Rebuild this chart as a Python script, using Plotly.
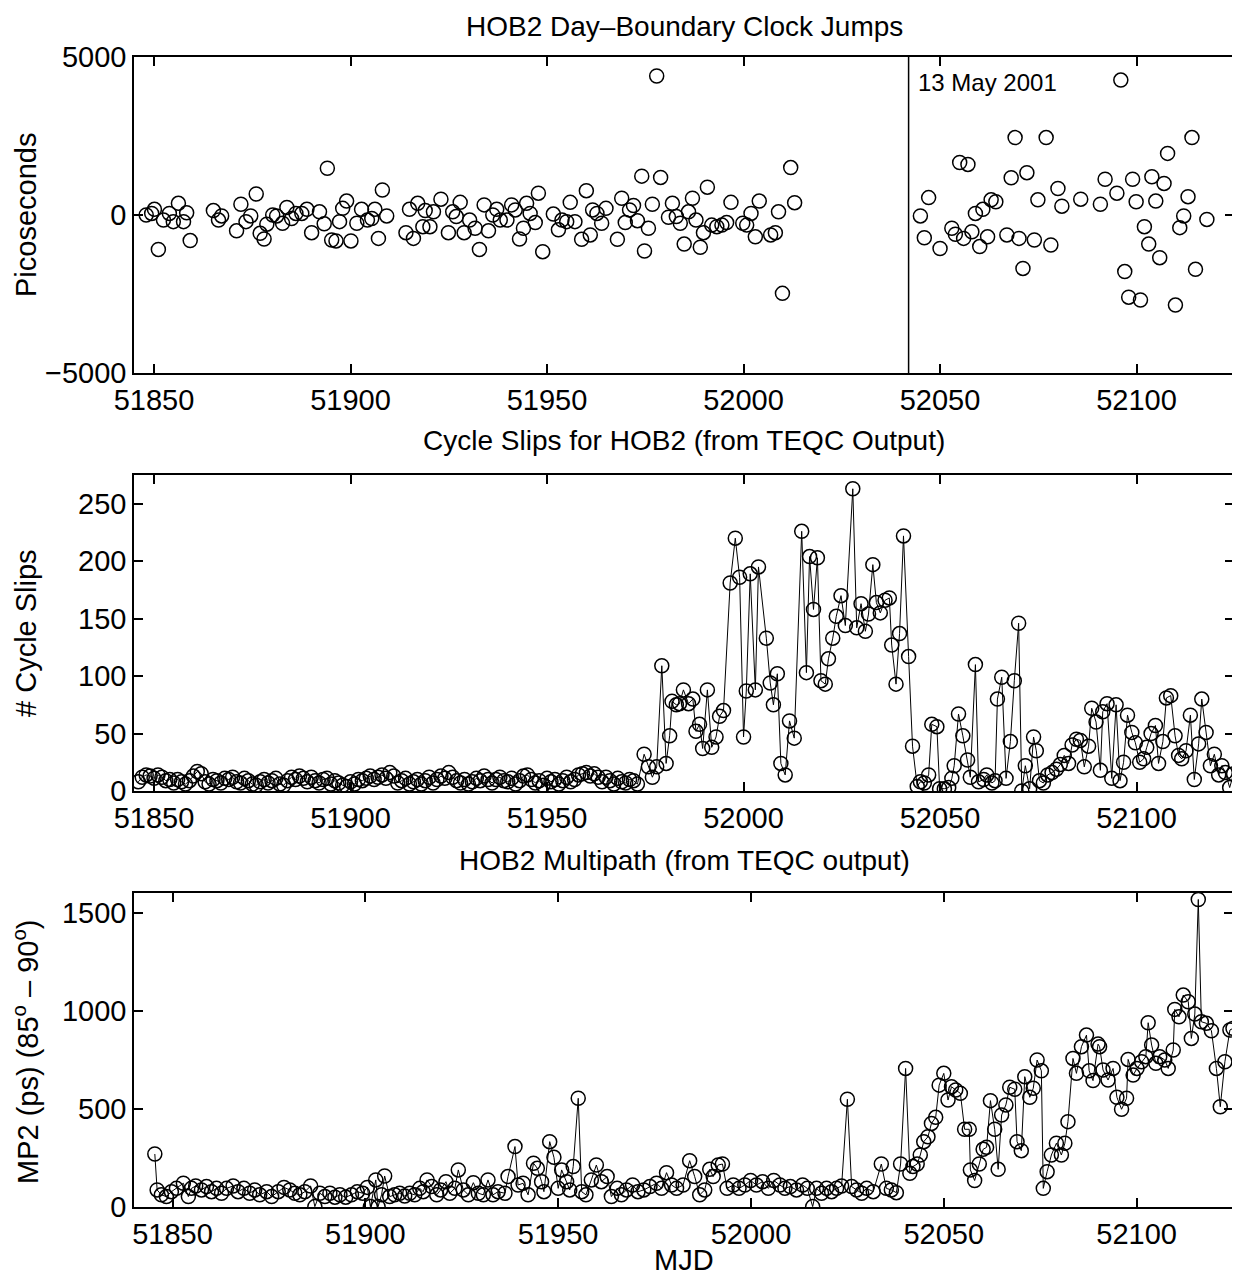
import plotly.graph_objects as go

# ---------------- Panel 1: day-boundary clock jumps (ps) ----------------
p1_mjd = [51848.0, 51849.4, 51850.1, 51851.1, 51852.4, 51853.9, 51854.9, 51856.2, 51857.5, 51858.3, 51859.2,
          51865.1, 51866.4, 51867.2, 51871.0, 51872.1, 51873.4, 51874.6, 51876.0, 51877.0, 51878.0, 51878.7,
          51880.2, 51881.2, 51882.7, 51883.8, 51885.0, 51886.1, 51887.6, 51888.9, 51890.1, 51892.1, 51893.3,
          51894.1, 51895.2, 51896.3, 51897.2, 51898.0, 51899.0, 51900.1, 51901.6, 51902.8, 51904.3, 51905.4,
          51906.2, 51907.1, 51908.1, 51909.2,
          51914.1, 51915.0, 51916.0, 51917.1, 51918.4, 51919.0, 51920.2, 51921.1, 51923.0, 51924.9, 51926.0,
          51926.9, 51927.9, 51928.9, 51930.3, 51931.7, 51932.8, 51934.0, 51935.1, 51936.2, 51937.2, 51938.1,
          51939.8, 51941.0, 51941.9, 51943.0, 51944.0, 51944.8,
          51945.7, 51947.0, 51947.8, 51948.9, 51951.6, 51952.9, 51953.8, 51955.0, 51955.9, 51957.1, 51958.8,
          51960.0, 51961.0, 51961.6, 51962.7, 51963.9, 51965.0, 51967.9, 51969.0, 51969.9, 51971.0, 51972.0,
          51973.0, 51974.1, 51974.8, 51975.8, 51976.8, 51977.9, 51978.9, 51980.9, 51981.9, 51982.9, 51983.9,
          51984.9, 51986.0, 51987.0, 51987.9, 51989.0, 51989.8, 51990.8, 51991.9, 51993.2, 51994.5, 51995.7,
          51996.8, 51999.8, 52000.8, 52001.9, 52003.0, 52004.0, 52006.9, 52008.1, 52008.9, 52009.9, 52012.0,
          52013.0,
          52045.0, 52046.0, 52047.1, 52050.0, 52053.0, 52053.9, 52055.0, 52056.0, 52057.1, 52058.1, 52059.0,
          52060.1, 52060.9, 52062.1, 52063.0, 52064.2, 52067.0, 52068.1, 52069.1, 52070.1, 52071.1, 52072.1,
          52074.0, 52074.9, 52077.0, 52078.2, 52080.0, 52081.0, 52085.8, 52090.8, 52092.0, 52095.0, 52096.0,
          52097.0, 52098.0, 52099.0, 52099.9, 52101.0, 52102.0, 52103.1, 52103.9, 52104.9, 52105.9, 52107.0,
          52107.9, 52109.9, 52111.0, 52112.0, 52113.1, 52114.1, 52115.0, 52117.9]
p1_ps = [0, 50, 180, -1090, -160, 50, -210, 370, -210, 70, -810,
         140, -160, -30, -500, 340, -210, -30, 665, -580, -760, -290,
         0, -30, -260, 240, -110, 50, 50, 180, -560, 100, -280,
         1480, -790, -820, -210, 210, 440, -820, -260, 180, -160, -110,
         180, -740, 790, -30,
         -560, 180, -740, 370, -370, 140, -370, 100, 500, -560, 100,
         -50, 400, -560, -160, -420, -1090, 320, -500, 0, 180, -160,
         -160, 320, 160, -760, -420, 370,
         50, -240, 690, -1160, 30, -470, -160, -210, 400, -210, -770,
         770, -630, 160, 50, -260, 210, -770, 530, -240, 160, 300,
         -180, 1230, -1140, -420, 340, 4400, 1190, -70, 370, -50, -260,
         -920, 100, 530, -160, -1020, -560, 880, -320, -370, -320, -240,
         400, -260, -320, 50, -690, 440, -630, -560, 100, -2480, 1500,
         390,
         -30, -720, 550, -1060, -420, -610, 1660, -740, 1600, -530, 50,
         -1000, 180, -690, 480, 420, -630, 1180, 2450, -740, -1690, 1340,
         -790, 480, 2450, -950, 840, 280, 500, 340, 1130, 690, 4270,
         -1790, -2600, 1130, 420, -2690, -370, -920, 1210, 440, -1350, 1000,
         1950, -2850, -400, -30, 580, 2450, -1720, -140]

# ---------------- Panel 2: cycle slips ----------------
p2_low_mjd = list(range(51846, 51974))
p2_low_slips = [8, 12, 14, 13, 11, 14, 12, 9, 10, 7,
                10, 8, 6, 9, 13, 17, 15, 8, 6, 10,
                9, 7, 11, 10, 12, 8, 7, 11, 9, 6,
                5, 8, 10, 7, 9, 11, 6, 5, 9, 12,
                10, 13, 11, 8, 12, 9, 7, 10, 11, 6,
                9, 7, 5, 4, 8, 6, 10, 9, 11, 13,
                10, 12, 14, 11, 16, 13, 7, 9, 11, 6,
                8, 10, 6, 9, 12, 7, 10, 13, 11, 16,
                12, 9, 7, 10, 6, 8, 11, 9, 13, 10,
                7, 10, 12, 9, 8, 11, 6, 9, 13, 14,
                10, 7, 9, 5, 11, 8, 10, 6, 9, 12,
                8, 10, 14, 15, 16, 13, 15, 12, 8, 12,
                9, 6, 11, 8, 7, 10, 9, 6]
p2_high_mjd = [51974.7, 51975.8, 51976.8, 51977.9,
               51979.2, 51980.3, 51981.2, 51981.8, 51982.9, 51983.7, 51984.7, 51986.0, 51987.1, 51987.9,
               51988.8, 51989.6, 51990.8, 51991.9, 51993.0, 51993.9, 51994.9, 51996.6, 51997.9, 51999.0,
               52000.0, 52000.7, 52001.7, 52003.0, 52003.8, 52005.8, 52006.8, 52007.6, 52008.6, 52009.5,
               52010.6, 52011.7, 52012.9, 52014.8, 52016.0, 52016.8, 52017.8, 52018.8, 52019.7, 52020.8,
               52021.6, 52022.7, 52023.6, 52024.8, 52025.9, 52027.8, 52028.8, 52029.9, 52031.0, 52031.8,
               52032.9, 52033.8, 52034.8, 52036.0, 52037.1, 52037.7, 52038.8, 52039.7, 52040.7,
               52042.0, 52043.0, 52044.2, 52045.0, 52046.0, 52047.1, 52047.9, 52049.2, 52049.9, 52051.1,
               52052.2, 52053.0, 52053.6, 52054.7, 52055.8, 52057.0, 52057.7, 52059.0, 52059.8, 52061.1,
               52061.9, 52063.2, 52064.0, 52064.6, 52065.7, 52066.8, 52067.9, 52068.9, 52070.0, 52070.8,
               52071.7, 52072.8, 52073.8, 52074.5, 52075.3, 52076.3, 52077.4, 52078.5, 52079.6, 52080.6,
               52081.6, 52082.7, 52083.6, 52084.7, 52085.7, 52086.7, 52087.8, 52088.6, 52089.7, 52090.8,
               52091.4, 52092.5, 52093.7, 52094.8, 52095.8, 52096.7, 52097.7, 52098.8, 52099.7, 52100.8,
               52101.8, 52102.6, 52103.7, 52104.8, 52105.6, 52106.7, 52107.6, 52108.7, 52109.8, 52110.7,
               52111.5, 52112.6, 52113.7, 52114.7, 52115.8, 52116.6, 52117.7, 52118.8, 52119.8, 52120.9,
               52121.7, 52122.6, 52123.7, 52124.7]
p2_high_slips = [32, 21, 12, 21,
                 109, 24, 48, 78, 75, 76, 88, 76, 80, 52,
                 58, 37, 88, 38, 47, 65, 70, 181, 220, 186,
                 47, 87, 189, 88, 195, 133, 94, 75, 102, 24,
                 14, 61, 46, 226, 103, 204, 158, 203, 96, 93,
                 115, 133, 152, 170, 144, 263, 142, 163, 139, 154,
                 197, 164, 155, 166, 168, 127, 93, 137, 222,
                 117, 39, 4, 8, 7, 14, 58, 56, 2, 2,
                 3, 11, 22, 67, 48, 27, 12, 110, 8, 10,
                 14, 7, 9, 80, 99, 11, 43, 96, 146, 0,
                 22, 2, 47, 35, 9, 7, 14, 16, 19, 23,
                 31, 24, 40, 45, 44, 21, 39, 72, 60, 18,
                 69, 76, 11, 75, 9, 25, 66, 51, 42, 25,
                 28, 38, 50, 57, 24, 43, 81, 83, 48, 31,
                 28, 35, 66, 10, 41, 80, 51, 22, 32, 14,
                 22, 16, 3, 15]
p2_mjd = p2_low_mjd + p2_high_mjd
p2_slips = p2_low_slips + p2_high_slips

# ---------------- Panel 3: MP2 multipath (ps) ----------------
p3_mjd = [51845.4, 51846.0, 51847.1, 51848.4, 51849.7, 51851.0, 51852.8, 51854.1, 51854.9, 51856.0, 51857.5,
          51858.8, 51860.1, 51861.4, 51862.7, 51864.0, 51865.7, 51867.0, 51868.5, 51870.0, 51871.3, 51872.6,
          51874.4, 51875.7, 51877.4, 51878.9, 51880.4, 51881.7, 51883.0, 51884.3, 51885.8, 51886.9, 51888.2,
          51889.5, 51890.8, 51892.1, 51893.4, 51894.9, 51896.4, 51897.9, 51899.3, 51900.5, 51901.3, 51902.7,
          51903.3, 51904.2, 51905.0, 51906.3, 51907.6, 51908.9, 51910.2, 51911.5, 51912.8, 51914.1, 51915.0,
          51916.0, 51917.2, 51918.5, 51919.5, 51920.9, 51921.9, 51923.2, 51924.1, 51925.4, 51926.7, 51928.0,
          51929.3, 51930.6, 51931.8, 51933.1, 51934.4, 51936.2, 51937.0, 51938.8, 51939.6, 51940.9,
          51942.2, 51943.6, 51944.6, 51945.7, 51946.3, 51947.8, 51948.9, 51950.0, 51950.9, 51952.2, 51953.0,
          51953.9, 51955.2, 51956.1, 51957.2, 51958.6, 51959.9, 51961.2, 51962.7, 51963.8, 51965.3, 51966.4,
          51967.7, 51969.3, 51970.7, 51972.2, 51973.8, 51975.5, 51976.8, 51978.1, 51979.4, 51980.7, 51982.4,
          51984.1, 51985.4, 51986.7, 51988.0, 51989.3, 51990.2, 51991.5, 51992.6, 51993.8, 51995.4, 51996.9,
          51998.4, 51999.9, 52001.4, 52003.0, 52004.5, 52005.9, 52007.5, 52008.8, 52010.2, 52011.8, 52013.4,
          52014.6, 52016.0, 52017.0, 52018.3, 52019.6, 52020.9, 52022.2, 52023.5, 52025.0, 52026.1, 52027.4,
          52028.7, 52030.0, 52031.7,
          52033.8, 52035.1, 52036.4, 52037.7, 52038.8, 52040.1, 52041.2, 52042.0, 52043.1, 52043.9, 52044.8,
          52045.9, 52046.8, 52047.9, 52048.8, 52050.0, 52051.1, 52052.0, 52053.1, 52054.3, 52055.4, 52056.6,
          52056.9, 52058.0, 52059.2, 52060.2, 52061.1, 52062.1, 52063.2, 52064.1, 52065.0, 52066.1, 52067.1,
          52068.4, 52069.0, 52070.1, 52071.0, 52072.3, 52073.2, 52074.2, 52075.3, 52075.8, 52076.8, 52077.9,
          52079.2, 52080.5, 52081.4, 52082.2, 52083.5, 52084.4, 52085.7, 52087.0, 52087.7, 52088.7, 52090.0,
          52090.4, 52091.3, 52092.6, 52093.9, 52094.9, 52096.1, 52097.4, 52097.8, 52099.1, 52100.1, 52101.3,
          52102.4, 52103.0, 52103.9, 52105.0, 52106.0, 52107.3, 52108.2, 52109.5, 52109.9, 52111.0, 52112.1,
          52113.4, 52114.2, 52115.1, 52116.0, 52116.8, 52118.1, 52119.4, 52120.7, 52121.7, 52122.9, 52124.2,
          52125.0]
p3_mp2 = [270, 87, 62, 53, 78, 95, 121, 53, 95, 107, 87,
          104, 78, 95, 70, 95, 107, 78, 95, 70, 87, 62,
          78, 53, 78, 100, 87, 70, 62, 78, 107, 2, 70,
          53, 70, 50, 62, 50, 62, 78, 70, 100, 2, 138,
          2, 62, 158, 53, 62, 70, 56, 70, 62, 95, 78,
          138, 104, 62, 87, 129, 70, 95, 189, 87, 62, 124,
          70, 62, 138, 62, 78, 70, 155, 308, 112, 121,
          62, 223, 197, 129, 78, 333, 253, 95, 189, 129, 87,
          206, 554, 78, 62, 138, 214, 129, 155, 53, 95, 62,
          87, 112, 78, 87, 104, 121, 95, 175, 112, 95, 112,
          236, 155, 62, 87, 192, 155, 214, 219, 95, 112, 95,
          112, 135, 112, 129, 95, 135, 112, 95, 104, 87, 112,
          95, 2, 95, 70, 95, 78, 95, 107, 549, 104, 87,
          70, 95, 78,
          219, 95, 87, 73, 219, 706, 172, 206, 219, 265, 333,
          358, 426, 457, 621, 681, 545, 613, 596, 579, 396, 396,
          189, 135, 219, 294, 304, 542, 396, 192, 469, 520, 610,
          600, 333, 287, 664, 559, 605, 749, 694, 95, 180, 265,
          325, 265, 325, 435, 757, 681, 817, 876, 694, 644, 830,
          817, 698, 647, 706, 559, 498, 554, 752, 672, 706, 740,
          766, 939, 825, 732, 766, 749, 706, 800, 1007, 969, 1080,
          1046, 859, 983, 1567, 944, 936, 898, 706, 511, 740, 902,
          910]

# ---------------- Labels ----------------
x_tickvals = [51850, 51900, 51950, 52000, 52050, 52100]
x_ticktext = ["51850", "51900", "51950", "52000", "52050", "52100"]
y1_tickvals = [-5000, 0, 5000]
y1_ticktext = ["\u22125000", "0", "5000"]
y2_tickvals = [0, 50, 100, 150, 200, 250]
y3_tickvals = [0, 500, 1000, 1500]
titles = ["HOB2 Day\u2013Boundary Clock Jumps",
          "Cycle Slips for HOB2 (from TEQC Output)",
          "HOB2 Multipath (from TEQC output)"]
ytitles = ["Picoseconds", "# Cycle Slips", "MP2 (ps) (85<sup>o</sup> \u2013 90<sup>o</sup>)"]
event_mjd = 52042
event_label = "13 May 2001"

FONT = "Liberation Sans, Arial, Helvetica, sans-serif"
W, H = 1240, 1279
OFF = 8  # page body margin offset of the plot div

def px_x(p):
    return (p - OFF) / W

def px_y(p):
    return 1 - (p - OFF) / H

marker = dict(symbol="circle-open", size=14, color="black", line=dict(width=1.5, color="black"))

fig = go.Figure()
fig.add_trace(go.Scatter(x=p1_mjd, y=p1_ps, mode="markers", marker=marker,
                         xaxis="x", yaxis="y", showlegend=False))
fig.add_trace(go.Scatter(x=p2_mjd, y=p2_slips, mode="lines+markers", marker=marker,
                         line=dict(color="black", width=1),
                         xaxis="x2", yaxis="y2", showlegend=False))
fig.add_trace(go.Scatter(x=p3_mjd, y=p3_mp2, mode="lines+markers", marker=marker,
                         line=dict(color="black", width=1),
                         xaxis="x3", yaxis="y3", showlegend=False))

axis_common = dict(showline=True, linecolor="black", linewidth=1.5, mirror="ticks",
                   ticks="inside", ticklen=9, tickwidth=1.5, tickcolor="black",
                   showgrid=False, zeroline=False, automargin=False,
                   tickfont=dict(family=FONT, size=29, color="black"))

xdom = [px_x(134), px_x(1234)]
fig.update_layout(
    width=W, height=H, autosize=False,
    margin=dict(l=0, r=0, t=0, b=0, autoexpand=False),
    paper_bgcolor="white", plot_bgcolor="white",
    font=dict(family=FONT, color="black"),
    xaxis=dict(domain=xdom, anchor="y", range=[51844.9, 52124.8],
               tickvals=x_tickvals, ticktext=x_ticktext, **axis_common),
    yaxis=dict(domain=[px_y(373), px_y(57)], anchor="x", range=[-5000, 5000],
               tickvals=y1_tickvals, ticktext=y1_ticktext, **axis_common),
    xaxis2=dict(domain=xdom, anchor="y2", range=[51844.9, 52124.8],
                tickvals=x_tickvals, ticktext=x_ticktext, **axis_common),
    yaxis2=dict(domain=[px_y(791), px_y(475)], anchor="x2", range=[0, 275],
                tickvals=y2_tickvals, **axis_common),
    xaxis3=dict(domain=[px_x(134), px_x(1233)], anchor="y3", range=[51840, 52125],
                tickvals=x_tickvals, ticktext=x_ticktext, **axis_common),
    yaxis3=dict(domain=[px_y(1207), px_y(893)], anchor="x3", range=[0, 1600],
                tickvals=y3_tickvals, **axis_common),
)

fig.add_shape(type="line", xref="x", yref="y domain", x0=event_mjd, x1=event_mjd, y0=0, y1=1,
              line=dict(color="black", width=1.5))

ann = []
for t, yp in zip(titles, [26, 441, 860]):
    ann.append(dict(text=t, x=px_x(684), y=px_y(yp), xref="paper", yref="paper",
                    showarrow=False, xanchor="center", yanchor="middle",
                    font=dict(family=FONT, size=28, color="black")))
for t, yp in zip(ytitles, [215, 633, 1052]):
    ann.append(dict(text=t, x=px_x(26), y=px_y(yp), xref="paper", yref="paper",
                    showarrow=False, xanchor="center", yanchor="middle", textangle=-90,
                    font=dict(family=FONT, size=29, color="black")))
ann.append(dict(text="MJD", x=px_x(684), y=px_y(1260), xref="paper", yref="paper",
                showarrow=False, xanchor="center", yanchor="middle",
                font=dict(family=FONT, size=29, color="black")))
ann.append(dict(text=event_label, x=52044.0, y=px_y(82), xref="x", yref="paper",
                showarrow=False, xanchor="left", yanchor="middle",
                font=dict(family=FONT, size=24, color="black")))
fig.update_layout(annotations=ann)

fig.write_html("out.html")
